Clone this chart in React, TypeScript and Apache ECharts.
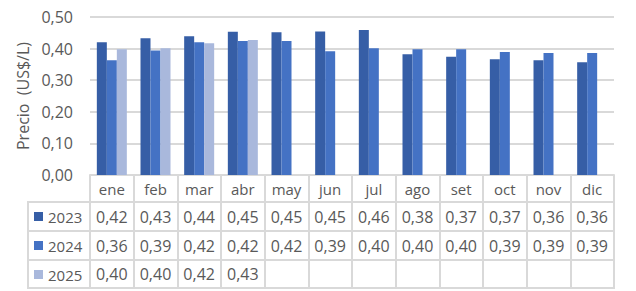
import React, { useEffect, useRef } from "react";
import * as echarts from "echarts";

const months = ["ene", "feb", "mar", "abr", "may", "jun", "jul", "ago", "set", "oct", "nov", "dic"];
const years = ["2023", "2024", "2025"];
const values2023 = [0.42, 0.433, 0.439, 0.453, 0.452, 0.454, 0.459, 0.382, 0.374, 0.366, 0.363, 0.357];
const values2024 = [0.363, 0.394, 0.42, 0.424, 0.424, 0.392, 0.401, 0.398, 0.398, 0.389, 0.386, 0.386];
const values2025: (number | null)[] = [0.398, 0.401, 0.417, 0.427, null, null, null, null, null, null, null, null];
const yTicks = [0, 0.1, 0.2, 0.3, 0.4, 0.5];

const colors = ["#365EA6", "#4472C4", "#A9B8DC"];
const fmt = (v: number | null) => (v == null ? "" : v.toFixed(2).replace(".", ","));

const FONT = "'Open Sans', 'Noto Sans', sans-serif";
const TXT = "#595959";
const LINE = "#D9D9D9";

export default function App() {
  const ref = useRef<HTMLDivElement>(null);
  useEffect(() => {
    document.body.style.margin = "0";
    if (!ref.current) return;
    const chart = echarts.init(ref.current, null, { renderer: "svg" });
    const gridLeft = 90, gridRight = 22, gridTop = 17, gridBottom = 116;
    const W = 636, H = 291;
    const axisY = H - gridBottom; // 175
    const rowLines = [202, 231, 260, 288];
    const rowCenters = [216.5, 245.5, 274];
    const allVals = [values2023, values2024, values2025];
    const tableLeft = 28;
    const tableRight = W - gridRight;

    const rowAxes = allVals.map((vals, r) => ({
      type: "category",
      gridIndex: 0,
      position: "bottom",
      offset: rowCenters[r] - axisY,
      data: months,
      axisLine: { show: false },
      axisTick: { show: false },
      axisLabel: {
        interval: 0,
        margin: 0,
        verticalAlign: "middle",
        fontSize: 16,
        fontFamily: FONT,
        color: TXT,
        formatter: (_v: string, i: number) => fmt(vals[i]),
      },
    }));

    const graphics: any[] = rowLines.map((y) => ({
      type: "line",
      shape: { x1: tableLeft, y1: y, x2: tableRight, y2: y },
      style: { stroke: LINE, lineWidth: 2 },
      silent: true,
    }));
    graphics.push({
      type: "line",
      shape: { x1: tableLeft, y1: rowLines[0] - 1, x2: tableLeft, y2: rowLines[3] + 1 },
      style: { stroke: LINE, lineWidth: 2 },
      silent: true,
    });

    chart.setOption({
      animation: false,
      textStyle: { fontFamily: FONT },
      color: colors,
      grid: { left: gridLeft, right: gridRight, top: gridTop, bottom: gridBottom, containLabel: false },
      legend: {
        orient: "vertical",
        left: 34,
        top: rowCenters[0] - 7.5,
        height: 80,
        padding: 0,
        itemWidth: 9,
        itemHeight: 9,
        itemGap: 14,
        icon: "rect",
        selectedMode: false,
        data: years,
        textStyle: { fontSize: 15, lineHeight: 15, color: TXT, fontFamily: FONT },
      },
      xAxis: [
        {
          type: "category",
          data: months,
          boundaryGap: true,
          axisLine: { show: true, lineStyle: { color: LINE, width: 2 } },
          axisTick: { show: true, interval: 0, length: rowLines[3] - axisY + 1, lineStyle: { color: LINE, width: 2 } },
          axisLabel: { interval: 0, margin: 14, verticalAlign: "middle", fontSize: 15, color: TXT, fontFamily: FONT },
        },
        ...rowAxes,
      ],
      yAxis: {
        type: "value",
        min: yTicks[0],
        max: yTicks[yTicks.length - 1],
        interval: 0.1,
        name: "Precio  (US$/L)",
        nameLocation: "middle",
        nameGap: 59,
        nameTextStyle: { fontSize: 16, color: TXT, fontFamily: FONT },
        axisLine: { show: false },
        axisTick: { show: false },
        splitLine: { lineStyle: { color: LINE, width: 2 } },
        axisLabel: { margin: 17, fontSize: 16, color: TXT, fontFamily: FONT, formatter: (v: number) => fmt(v) },
      },
      series: [
        { name: years[0], type: "bar", data: values2023, barWidth: 10, barGap: "0%", itemStyle: { color: colors[0] } },
        { name: years[1], type: "bar", data: values2024, barWidth: 10, barGap: "0%", itemStyle: { color: colors[1] } },
        { name: years[2], type: "bar", data: values2025, barWidth: 10, barGap: "0%", itemStyle: { color: colors[2] } },
      ],
      graphic: graphics,
    });
    return () => chart.dispose();
  }, []);
  return <div ref={ref} style={{ width: 636, height: 291 }} />;
}
